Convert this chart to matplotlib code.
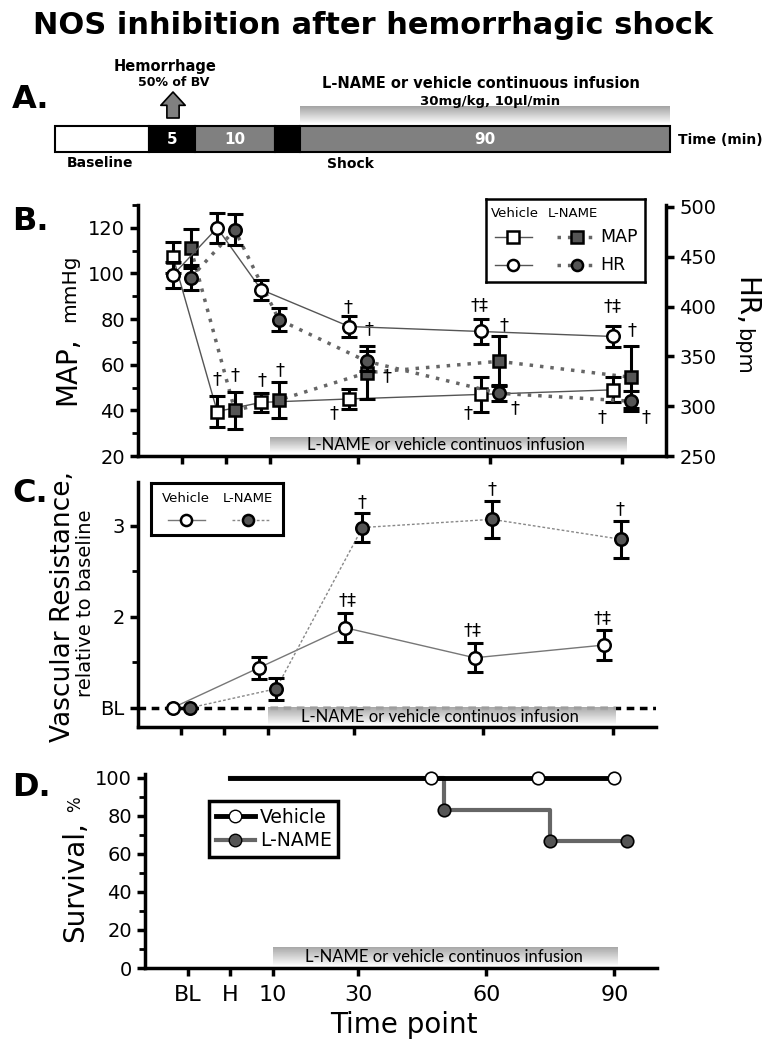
import numpy as np
import matplotlib.pyplot as plt
from matplotlib.colors import LinearSegmentedColormap
from matplotlib.lines import Line2D

plt.rcParams['font.family'] = ['DejaVu Sans']

# time points (min); BL = baseline, H = end of hemorrhage
time_pts = [-10, 0, 10, 30, 60, 90]
time_lab = ['BL', 'H', '10', '30', '60', '90']

# B: MAP (mmHg) and HR (bpm)
map_veh = [107, 39.5, 43.5, 45, 47, 49]
map_veh_err = [7, 7, 4, 4.5, 7.5, 5.5]
map_ln = [111, 40, 44.5, 56.5, 61.5, 54.5]
map_ln_err = [8.5, 8, 8, 11.5, 11, 13.5]
hr_veh = [432, 479, 417, 380, 375, 370]
hr_veh_err = [13, 15, 10, 11, 12.5, 10.5]
hr_ln = [429, 477, 387, 345, 313, 305]
hr_ln_err = [12.5, 15.5, 11.5, 10, 8, 10]

# C: vascular resistance, relative to baseline
vr_time = [-10, 10, 30, 60, 90]
vr_veh = [1.0, 1.44, 1.88, 1.55, 1.69]
vr_veh_err = [0, 0.12, 0.16, 0.16, 0.16]
vr_ln = [1.0, 1.21, 2.98, 3.07, 2.85]
vr_ln_err = [0, 0.12, 0.16, 0.2, 0.2]

# D: survival (%)
surv_veh_t = [0, 47, 72, 90]
surv_veh = [100, 100, 100, 100]
surv_ln_t = [0, 50, 75, 93]
surv_ln = [100, 83.3, 66.7, 66.7]

# A: protocol time line
seg_len = [94, 46, 80, 25, 370]
seg_col = ['white', 'black', '#808080', 'black', '#808080']
seg_lab = ['', '5', '10', '', '90']

# significance marks (x, y, mark)
sig_b = [(-2, 53.8, '†'), (2, 55.5, '†'), (8.2, 53.3, '†'), (12.3, 57.7, '†'),
         (27.8, 85.4, '†'), (32.4, 75.7, '†'), (24.6, 38.9, '†'), (36.5, 55.1, '†'),
         (57.6, 86.2, '†‡'), (63.1, 77.5, '†'), (55.1, 38.9, '†'), (65.6, 41.1, '†'),
         (87.8, 85.8, '†‡'), (92.2, 75.3, '†'), (85.5, 37.1, '†'), (95.4, 37.1, '†')]
sig_c = [(32, 3.26, '†'), (28.6, 2.18, '†‡'), (62, 3.40, '†'), (57.6, 1.85, '†‡'),
         (91.7, 3.18, '†'), (87.7, 1.99, '†‡')]

infusion = 'L-NAME or vehicle continuos infusion'
grad_cmap = LinearSegmentedColormap.from_list('band', ['#ffffff', '#a4a4a4'])
grad = np.linspace(0, 1, 64).reshape(-1, 1)

fig = plt.figure(figsize=(7.8, 10.5), dpi=100)

# overlay in pixel coordinates for panel A and labels
ov = fig.add_axes([0, 0, 1, 1])
ov.axis('off')


def style(ax, right=False):
    for s in ['top', 'right'] if not right else ['top', 'left', 'bottom']:
        ax.spines[s].set_visible(False)
    for s in ax.spines.values():
        s.set_linewidth(2.5)
    ax.tick_params(which='major', direction='out', length=6, width=2.5, labelsize=14)
    ax.tick_params(which='minor', direction='out', length=4, width=2)


def series(ax, x, y, err, marker, face, ls, lw, lc):
    ax.plot(x, y, ls=ls, color=lc, lw=lw, zorder=2)
    ax.errorbar(x, y, yerr=err, fmt='none', ecolor='k', elinewidth=2.2,
                capsize=6, capthick=2.2, zorder=3)
    ax.plot(x, y, ls='none', marker=marker, ms=9, mfc=face, mec='k', mew=1.8, zorder=4)


def band(ax, x0, x1, y0, y1, text, ty):
    ax.imshow(grad, cmap=grad_cmap, extent=(x0, x1, y0, y1), origin='lower',
              aspect='auto', zorder=2, alpha=0.95)
    ax.text(50, ty, text, ha='center', va='center', fontsize=12,
            family=['Lato', 'DejaVu Sans'], zorder=3)


xv = [t - 2 for t in time_pts]
xl = [t + 2 for t in time_pts]

# ---- B ----
axB = fig.add_axes([138 / 780, 1 - 456 / 1050, 528 / 780, 251 / 1050])
axH = axB.twinx()
style(axB)
style(axH, right=True)
axH.spines['right'].set_visible(True)
series(axB, xv, map_veh, map_veh_err, 's', 'white', '-', 1, '#555555')
series(axB, xl, map_ln, map_ln_err, 's', '#555555', (0, (1, 2)), 2.5, '#666666')
series(axH, xv, hr_veh, hr_veh_err, 'o', 'white', '-', 1, '#555555')
series(axH, xl, hr_ln, hr_ln_err, 'o', '#555555', (0, (1, 2)), 2.5, '#666666')
band(axB, 10, 91, 21.5, 28.5, infusion, 25)
for x, y, s in sig_b:
    axB.text(x, y, s, ha='center', va='center', fontsize=13)
axB.set_xlim(-20, 100)
axB.set_ylim(20, 130)
axB.set_xticks(time_pts)
axB.set_xticklabels([])
axB.set_yticks(range(20, 121, 20))
axB.set_yticks(range(30, 131, 20), minor=True)
axH.set_ylim(250, 502)
axH.set_yticks(range(250, 501, 50))
axH.tick_params(labelsize=14)

legB = axB.inset_axes([0.659, 0.693, 0.301, 0.331])
legB.set_zorder(10)
legB.set_xlim(0, 1)
legB.set_ylim(0, 1)
legB.set_xticks([])
legB.set_yticks([])
for s in legB.spines.values():
    s.set_linewidth(1.8)
legB.text(0.18, 0.83, 'Vehicle', ha='center', va='center', fontsize=9.5)
legB.text(0.55, 0.83, 'L-NAME', ha='center', va='center', fontsize=9.5)
for yy, mk, lab in [(0.54, 's', 'MAP'), (0.2, 'o', 'HR')]:
    legB.plot([0.057, 0.29], [yy, yy], color='#555555', lw=1)
    legB.plot([0.17], [yy], marker=mk, ms=8, mfc='white', mec='k', mew=1.8)
    legB.plot([0.45, 0.667], [yy, yy], color='#666666', lw=2.5, ls=(0, (1, 2)))
    legB.plot([0.57], [yy], marker=mk, ms=8, mfc='#555555', mec='k', mew=1.8)
    legB.text(0.72, yy, lab, ha='left', va='center', fontsize=12.5)

# ---- C ----
axC = fig.add_axes([138 / 780, 1 - 727 / 1050, 518 / 780, 245 / 1050])
style(axC)
axC.axhline(1, color='k', ls=(0, (2.2, 1.6)), lw=2.5, zorder=1)
series(axC, [t - 2 for t in vr_time], vr_veh, vr_veh_err, 'o', 'white', '-', 1, '#777777')
series(axC, [t + 2 for t in vr_time], vr_ln, vr_ln_err, 'o', '#555555', (0, (2, 1.5)), 1, '#888888')
band(axC, 10, 90.5, 0.81, 1.0, infusion, 0.9)
for x, y, s in sig_c:
    axC.text(x, y, s, ha='center', va='center', fontsize=13)
axC.set_xlim(-20, 100)
axC.set_ylim(0.79, 3.48)
axC.set_xticks(time_pts)
axC.set_xticklabels([])
axC.set_yticks([1, 2, 3])
axC.set_yticklabels(['BL', '2', '3'])
axC.set_yticks([1.5, 2.5], minor=True)

legC = axC.inset_axes([0.025, 0.784, 0.255, 0.212])
legC.set_zorder(10)
legC.set_xlim(0, 1)
legC.set_ylim(0, 1)
legC.set_xticks([])
legC.set_yticks([])
for s in legC.spines.values():
    s.set_linewidth(2.2)
legC.text(0.265, 0.71, 'Vehicle', ha='center', va='center', fontsize=9.5)
legC.text(0.735, 0.71, 'L-NAME', ha='center', va='center', fontsize=9.5)
legC.plot([0.13, 0.41], [0.29, 0.29], color='#777777', lw=1)
legC.plot([0.265], [0.29], 'o', ms=8, mfc='white', mec='k', mew=1.8)
legC.plot([0.61, 0.89], [0.29, 0.29], color='#888888', lw=1, ls=(0, (2, 1.5)))
legC.plot([0.735], [0.29], 'o', ms=8, mfc='#555555', mec='k', mew=1.8)

# ---- D ----
axD = fig.add_axes([145 / 780, 1 - 968 / 1050, 512 / 780, 194 / 1050])
style(axD)
axD.plot(surv_ln_t, surv_ln, drawstyle='steps-post', color='#666666', lw=3, zorder=2)
axD.plot(surv_ln_t[1:], surv_ln[1:], 'o', ms=9, mfc='#555555', mec='k', mew=1.2, zorder=4)
axD.plot(surv_veh_t, surv_veh, color='k', lw=3.5, zorder=3, clip_on=False)
axD.plot(surv_veh_t[1:], surv_veh[1:], 'o', ms=9, mfc='white', mec='k', mew=1.2,
         zorder=5, clip_on=False)
band(axD, 10, 90.8, 0.8, 10.5, infusion, 5.8)
axD.set_xlim(-20, 100)
axD.set_ylim(0, 102)
axD.set_xticks(time_pts)
axD.set_xticklabels(time_lab, fontsize=16)
axD.tick_params(axis='x', pad=6)
axD.set_yticks(range(0, 101, 20))
axD.set_yticks(range(10, 100, 20), minor=True)
hD = [Line2D([], [], color='k', lw=3.5, marker='o', ms=9, mfc='white', mec='k'),
      Line2D([], [], color='#666666', lw=3, marker='o', ms=9, mfc='#555555', mec='k')]
legD = axD.legend(hD, ['Vehicle', 'L-NAME'], loc='upper left', bbox_to_anchor=(0.125, 0.861),
                  borderaxespad=0, frameon=True, fancybox=False, edgecolor='k', fontsize=13.5,
                  handlelength=2.1, handletextpad=0.25, borderpad=0.35, labelspacing=0.25)
legD.get_frame().set_linewidth(2.5)
legD.get_frame().set_alpha(1)

# ---- A: protocol time line ----
starts = np.cumsum([55] + seg_len[:-1])
ov.barh(139, seg_len, left=starts, height=26, color=seg_col, edgecolor='k', lw=1.5)
for s0, w, lab in zip(starts, seg_len, seg_lab):
    ov.text(s0 + w / 2, 140, lab, ha='center', va='center', color='white',
            fontsize=11, fontweight='bold')
ov.imshow(grad, cmap=grad_cmap, extent=(300, 670, 124, 106), origin='lower', aspect='auto')
ov.annotate('', xy=(173, 92), xytext=(173, 118),
            arrowprops=dict(arrowstyle='simple,head_length=0.6,head_width=1.1,tail_width=0.55',
                            fc='#808080', ec='k', lw=1.2, shrinkA=0, shrinkB=0,
                            mutation_scale=16))
ov.text(165, 67, 'Hemorrhage', ha='center', va='center', fontsize=10.5, fontweight='bold')
ov.text(174, 83, '50% of BV', ha='center', va='center', fontsize=9, fontweight='bold')
ov.text(481, 83, 'L-NAME or vehicle continuous infusion', ha='center', va='center',
        fontsize=10.5, fontweight='bold')
ov.text(490, 102, '30mg/kg, 10µl/min', ha='center', va='center', fontsize=9.5, fontweight='bold')
ov.text(100, 163, 'Baseline', ha='center', va='center', fontsize=10, fontweight='bold')
ov.text(350, 164, 'Shock', ha='center', va='center', fontsize=10, fontweight='bold')
ov.text(678, 140, 'Time (min)', ha='left', va='center', fontsize=10, fontweight='bold')

# title and panel letters
ov.text(373, 26, 'NOS inhibition after hemorrhagic shock', ha='center', va='center',
        fontsize=22, fontweight='bold')
for lab, y in [('A.', 100), ('B.', 222), ('C.', 494), ('D.', 788)]:
    ov.text(12, y, lab, ha='left', va='center', fontsize=23, fontweight='bold')

# axis titles
rot = dict(rotation_mode='anchor', va='baseline')
ov.text(75, 405, 'MAP,', rotation=90, ha='left', fontsize=20, **rot)
ov.text(75, 322, 'mmHg', rotation=90, ha='left', fontsize=14.5, **rot)
ov.text(737, 277, 'HR,', rotation=270, ha='left', fontsize=20, **rot)
ov.text(737, 328, 'bpm', rotation=270, ha='left', fontsize=15, **rot)
ov.text(70, 742, 'Vascular Resistance,', rotation=90, ha='left', fontsize=19, **rot)
ov.text(91, 603, 'relative to baseline', rotation=90, ha='center', fontsize=14, **rot)
ov.text(83, 942, 'Survival,', rotation=90, ha='left', fontsize=20, **rot)
ov.text(80, 812, '%', rotation=90, ha='left', fontsize=12, **rot)
ov.text(404, 1025, 'Time point', ha='center', va='center', fontsize=20)

ov.set_xlim(0, 780)
ov.set_ylim(1050, 0)

fig.savefig('out.png', dpi=100)
